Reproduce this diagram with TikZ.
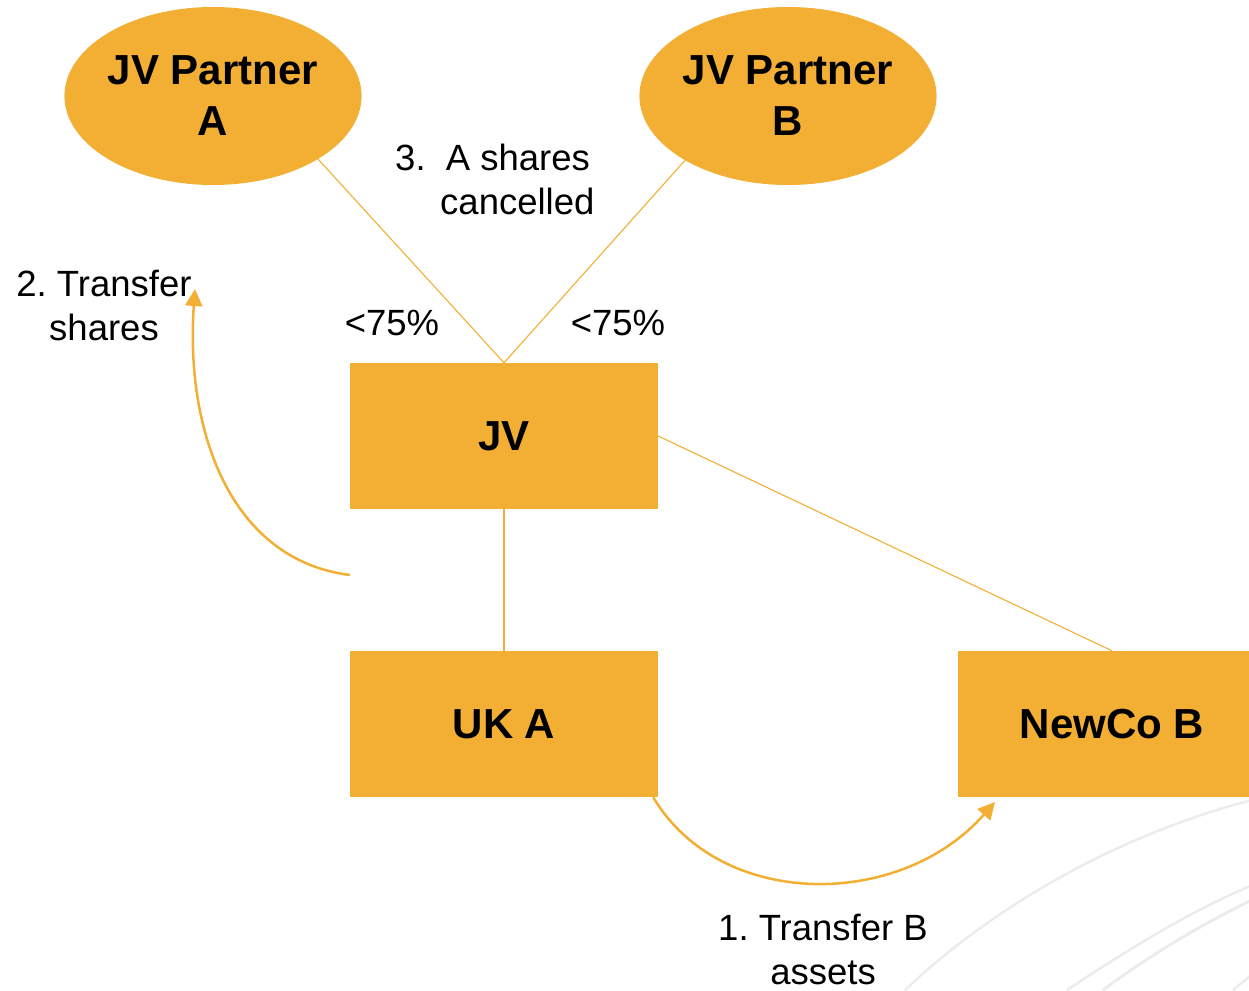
\documentclass[tikz,border=0pt]{standalone}
\usepackage{fontspec}
\setmainfont{Liberation Sans}
\usepackage{xcolor}
\usepackage{tikz}
\usetikzlibrary{arrows.meta,shapes}
\definecolor{jvorange}{HTML}{F2AF33}
\definecolor{swirl}{HTML}{EBEDEC}
\frenchspacing

\begin{document}
\begin{tikzpicture}[x=1pt,y=-1pt]
      \tikzstyle{partner}=[ellipse,fill=jvorange,minimum width=292pt,minimum height=178pt,inner sep=0pt,align=center,font=\fontsize{42}{51}\selectfont\bfseries]
      \tikzstyle{company}=[rectangle,fill=jvorange,minimum width=308pt,minimum height=146pt,inner sep=0pt,font=\fontsize{42}{51}\selectfont\bfseries]
      \tikzstyle{holding}=[draw=jvorange,line width=1.1pt]
      \tikzstyle{step_arrow}=[draw=jvorange,line width=2.5pt,-{Triangle[length=17pt,width=17pt]}]
      \tikzstyle{step_text}=[align=center,inner sep=0pt,font=\fontsize{36.5}{44}\selectfont]

      \useasboundingbox (0,0) rectangle (1249,990);

      % slide background swirls
      \draw[swirl,line width=2.5pt] (905,990) .. controls (1000,900) and (1130,830) .. (1260,798);
      \draw[swirl,line width=2.5pt] (1067,990) .. controls (1120,955) and (1190,910) .. (1260,882);
      \draw[swirl,line width=3pt] (1103,990) .. controls (1150,955) and (1200,925) .. (1260,896);
      \draw[swirl,line width=2.5pt] (1233,990) -- (1260,968);

      \node (partnerA) [partner] at (213,96) {JV Partner\\A};
      \node (partnerB) [partner] at (788,96) {JV Partner\\B};

      \node (jv) [company] at (504,436) {JV};
      \node (ukA) [company] at (504,724) {UK A};
      \node (newcoB) [company] at (1112,724) {NewCo B};

      \draw[holding] (partnerA.-31) -- (jv.north);
      \draw[holding] (partnerB.-148) -- (jv.north);
      \draw[holding] (jv.south) -- (ukA.north);
      \draw[holding] (jv.east) -- (newcoB.north);

      \node (shareA) [step_text,anchor=base] at (392,335) {<75\%};
      \node (shareB) [step_text,anchor=base] at (618,335) {<75\%};

      \coordinate (transfer_start) at (350,575);
      \coordinate (transfer_end) at (195,289);
      \draw[step_arrow] (transfer_start) .. controls (230,560) and (185,430) .. (transfer_end);

      \coordinate (assets_start) at ([xshift=-5pt]ukA.south east);
      \coordinate (assets_end) at (995,802);
      \draw[step_arrow] (assets_start) .. controls (720,910) and (900,910) .. (assets_end);

      \node (step1) [step_text] at (823,949) {1. Transfer B\\assets};
      \node (step2) [step_text] at (104,305) {2. Transfer\\shares};
      \node (step3) [step_text,anchor=north west,align=left] at (395,144) {3.\ \ A shares\\\hspace*{45pt}cancelled};
    \end{tikzpicture}
\end{document}
